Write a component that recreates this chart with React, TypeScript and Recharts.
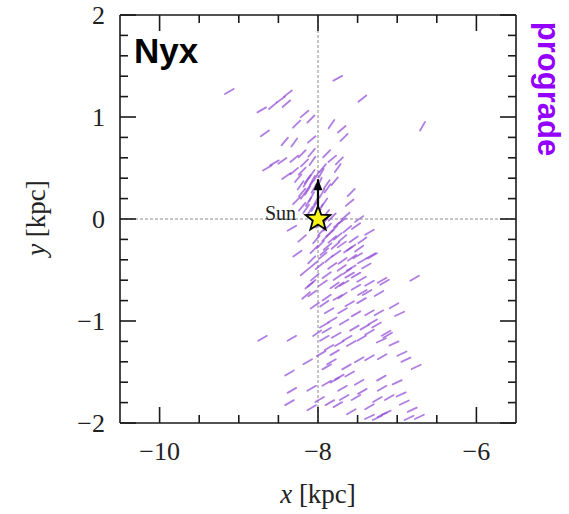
import { ScatterChart, Scatter, XAxis, YAxis, ReferenceLine } from "recharts";

// Nyx stream stars near the Sun: [x kpc, y kpc, velocity direction in degrees]
const nyxStars: [number, number, number][] = [
  [-9.12, 1.25, 30], [-7.75, 1.38, 28], [-8.71, 1.07, 30], [-8.57, 1.11, 40], [-8.47, 1.17, 35],
  [-8.38, 1.23, 38], [-8.40, 1.13, 40], [-7.44, 1.18, 38], [-6.68, 0.91, 60], [-8.17, 1.03, 40],
  [-8.27, 0.93, 45], [-8.09, 0.98, 45], [-7.83, 0.93, 55], [-7.70, 0.88, 40], [-7.67, 0.80, 45],
  [-8.67, 0.84, 35], [-8.42, 0.76, 50], [-8.30, 0.75, 55], [-8.08, 0.78, 40], [-7.89, 0.64, 45],
  [-7.82, 0.59, 40], [-7.73, 0.57, 45], [-7.75, 0.50, 55], [-7.94, 0.50, 50], [-8.55, 0.55, 30],
  [-8.45, 0.57, 35], [-8.64, 0.50, 30], [-8.30, 0.59, 40], [-8.20, 0.64, 45], [-8.08, 0.65, 50],
  [-8.17, 0.55, 45], [-8.07, 0.57, 55], [-8.40, 0.42, 35], [-8.30, 0.47, 40], [-8.20, 0.47, 45],
  [-8.08, 0.44, 55], [-8.13, 0.39, 55], [-7.79, 0.37, 50], [-7.89, 0.34, 55], [-7.58, 0.26, 45],
  [-7.60, 0.16, 40], [-8.20, 0.26, 50], [-8.27, 0.18, 45],
  [-8.15, 0.36, 60], [-8.10, 0.33, 55], [-8.05, 0.30, 60], [-8.13, 0.28, 58], [-8.18, 0.24, 55],
  [-8.08, 0.22, 62], [-8.02, 0.18, 60], [-8.12, 0.17, 58], [-8.20, 0.12, 50], [-8.05, 0.12, 60],
  [-7.97, 0.10, 62], [-8.10, 0.08, 58], [-7.95, 0.25, 60], [-7.98, 0.36, 65], [-8.02, 0.42, 60],
  [-8.22, 0.33, 55], [-8.15, 0.10, 55], [-7.92, 0.16, 55], [-7.90, 0.05, 50], [-8.00, 0.05, 58],
  [-7.88, 0.30, 55], [-8.25, 0.40, 50], [-7.96, 0.45, 60], [-8.07, 0.38, 62],
  [-7.48, 0.00, 35], [-7.52, -0.07, 35], [-7.35, -0.13, 30], [-7.44, -0.21, 35], [-7.63, -0.10, 40],
  [-7.69, -0.19, 40], [-7.48, -0.29, 35], [-7.33, -0.36, 30], [-7.57, -0.38, 35], [-7.39, -0.46, 30],
  [-7.63, -0.51, 35], [-7.52, -0.55, 30], [-7.16, -0.62, 30], [-6.78, -0.58, 30], [-7.35, -0.63, 30],
  [-7.44, -0.72, 30], [-7.23, -0.73, 30], [-7.73, -0.65, 35], [-7.69, -0.75, 35],
  [-8.33, -0.09, 30], [-8.20, -0.19, 40], [-8.26, -0.34, 35], [-8.17, -0.52, 40], [-8.11, -0.65, 40],
  [-8.15, -0.75, 40],
  [-7.98, -0.05, 45], [-7.92, -0.03, 50], [-7.88, -0.08, 45], [-7.95, -0.12, 45], [-7.85, -0.14, 40],
  [-7.80, -0.10, 45], [-7.90, -0.18, 45], [-7.82, -0.20, 40], [-7.75, -0.17, 40], [-8.02, -0.20, 50],
  [-7.97, -0.25, 45], [-7.88, -0.27, 40], [-7.78, -0.26, 40], [-7.70, -0.25, 35], [-8.05, -0.30, 45],
  [-7.92, -0.32, 40], [-7.62, -0.30, 35], [-8.08, -0.40, 45], [-7.75, -0.05, 40], [-7.70, -0.02, 35],
  [-7.82, 0.02, 45], [-7.65, 0.03, 40], [-8.06, -0.45, 40], [-7.55, -0.20, 35], [-7.58, -0.28, 35],
  [-7.94, -0.36, 40], [-7.86, -0.39, 40], [-7.77, -0.34, 35], [-7.69, -0.41, 35], [-7.98, -0.46, 40],
  [-7.82, -0.46, 35], [-7.70, -0.48, 35], [-7.58, -0.48, 30], [-7.44, -0.41, 30], [-7.31, -0.36, 30],
  [-7.50, -0.36, 30], [-8.04, -0.57, 40], [-7.89, -0.55, 35], [-7.75, -0.57, 35], [-7.60, -0.55, 30],
  [-7.45, -0.59, 30], [-7.19, -0.60, 30], [-8.08, -0.63, 40], [-7.94, -0.63, 35], [-7.79, -0.65, 35],
  [-7.67, -0.63, 30], [-7.52, -0.67, 30], [-7.38, -0.72, 30], [-8.07, -0.73, 35], [-7.89, -0.77, 35],
  [-7.75, -0.77, 30], [-7.60, -0.83, 30], [-7.45, -0.80, 30], [-7.04, -0.85, 30], [-6.97, -0.93, 25],
  [-7.23, -0.92, 30], [-8.04, -0.85, 35], [-7.86, -0.90, 30], [-7.69, -0.90, 30], [-7.52, -0.93, 30],
  [-7.35, -0.92, 30], [-7.92, -0.83, 35],
  [-7.82, -0.99, 30], [-7.67, -1.01, 30], [-7.54, -1.07, 30], [-7.41, -1.06, 30], [-7.26, -1.04, 30],
  [-7.14, -1.12, 30], [-8.33, -1.17, 30], [-7.89, -1.09, 30], [-7.77, -1.14, 30], [-7.63, -1.17, 30],
  [-7.45, -1.17, 30], [-7.20, -1.19, 25], [-7.04, -1.22, 25], [-7.92, -1.04, 30], [-7.92, -1.17, 30],
  [-7.86, -1.26, 30], [-7.96, -1.32, 30], [-7.83, -1.40, 30], [-7.89, -1.45, 30], [-7.79, -1.58, 30],
  [-7.89, -1.61, 30], [-8.01, -1.12, 35], [-8.13, -1.40, 30], [-8.70, -1.17, 30],
  [-8.36, -1.51, 30], [-8.33, -1.68, 30], [-8.08, -1.66, 30], [-8.36, -1.80, 30], [-8.08, -1.85, 30],
  [-7.98, -1.77, 30], [-7.85, -1.80, 30],
  [-7.31, -1.01, 30], [-7.12, -1.14, 30], [-7.35, -1.11, 30], [-7.58, -1.22, 30], [-7.73, -1.22, 30],
  [-7.79, -1.31, 30], [-6.94, -1.32, 25], [-6.89, -1.38, 25], [-6.76, -1.45, 25], [-7.19, -1.35, 30],
  [-7.35, -1.36, 30], [-7.48, -1.38, 30], [-7.64, -1.45, 30], [-7.60, -1.52, 30], [-7.73, -1.55, 30],
  [-7.48, -1.60, 30], [-7.20, -1.56, 30], [-7.00, -1.60, 25], [-7.19, -1.66, 30], [-7.69, -1.66, 30],
  [-7.44, -1.69, 30], [-7.52, -1.75, 30], [-7.67, -1.75, 30], [-6.95, -1.72, 25], [-7.25, -1.77, 30],
  [-7.10, -1.75, 30], [-6.91, -1.80, 25], [-7.75, -1.82, 30], [-7.35, -1.84, 30], [-7.58, -1.89, 30],
  [-6.81, -1.87, 25], [-7.14, -1.90, 25], [-7.35, -1.94, 25], [-7.25, -1.95, 25], [-7.19, -1.92, 25],
  [-6.72, -1.94, 25], [-6.85, -1.95, 25],
];

const sunPos = [{ x: -8, y: 0 }];
const sunArrow = [{ x: -8, y: 0 }, { x: -8, y: 0.39 }];

const xTicks = [-10, -9.5, -9, -8.5, -8, -7.5, -7, -6.5, -6];
const xLabelTicks = [-10, -8, -6];
const yTicks = [-2, -1.8, -1.6, -1.4, -1.2, -1, -0.8, -0.6, -0.4, -0.2, 0, 0.2, 0.4, 0.6, 0.8, 1, 1.2, 1.4, 1.6, 1.8, 2];
const yLabelTicks = [-2, -1, 0, 1, 2];

const serif = "'Liberation Serif', 'DejaVu Serif', serif";
const sans = "'Liberation Sans', Arial, sans-serif";
const ink = "#1a1a1a";
const fmt = (v: number) => (v < 0 ? "\u2212" + Math.abs(v) : String(v));

const streamData = nyxStars.map(([x, y, a]) => ({ x, y, a }));

const Segment = (p: any) => {
  const { cx, cy, payload } = p;
  if (cx == null || cy == null) return null;
  const r = (payload.a * Math.PI) / 180;
  const dx = 5 * Math.cos(r), dy = 5 * Math.sin(r);
  return <line x1={cx - dx} y1={cy + dy} x2={cx + dx} y2={cy - dy} stroke="#9553d6" strokeOpacity={0.75} strokeWidth={1.8} strokeLinecap="round" />;
};

const SunStar = (p: any) => {
  const { cx, cy } = p;
  const pts: string[] = [];
  for (let i = 0; i < 10; i++) {
    const rad = i % 2 === 0 ? 13 : 5.5;
    const ang = -Math.PI / 2 + (i * Math.PI) / 5;
    pts.push(`${cx + rad * Math.cos(ang)},${cy + rad * Math.sin(ang)}`);
  }
  return (
    <g>
      <polygon points={pts.join(" ")} fill="#f7f21a" stroke="#000" strokeWidth={1.8} strokeLinejoin="miter" />
      <text x={cx - 22} y={cy + 1} textAnchor="end" fontFamily={serif} fontSize={20} fill="#222">Sun</text>
    </g>
  );
};

const ArrowHead = (p: any) => {
  const { cx, cy, payload } = p;
  if (payload.y === 0) return null;
  return <polygon points={`${cx},${cy} ${cx - 4.5},${cy + 11} ${cx + 4.5},${cy + 11}`} fill="#000" />;
};

const BottomTick = ({ x, y, payload }: any) => {
  const major = xLabelTicks.includes(payload.value);
  return (
    <g>
      <line x1={x} x2={x} y1={y} y2={y - (major ? 16 : 8)} stroke={ink} strokeWidth={1.6} />
      {major && <text x={x} y={y + 37} textAnchor="middle" fontFamily={serif} fontSize={26} fill="#222">{fmt(payload.value)}</text>}
    </g>
  );
};
const TopTick = ({ x, y, payload }: any) => {
  const major = xLabelTicks.includes(payload.value);
  return <line x1={x} x2={x} y1={y} y2={y + (major ? 16 : 8)} stroke={ink} strokeWidth={1.6} />;
};
const LeftTick = ({ x, y, payload }: any) => {
  const major = yLabelTicks.includes(payload.value);
  return (
    <g>
      <line x1={x} x2={x + (major ? 16 : 8)} y1={y} y2={y} stroke={ink} strokeWidth={1.6} />
      {major && <text x={x - 15} y={y + 9} textAnchor="end" fontFamily={serif} fontSize={26} fill="#222">{fmt(payload.value)}</text>}
    </g>
  );
};
const RightTick = ({ x, y, payload }: any) => {
  const major = yLabelTicks.includes(payload.value);
  return <line x1={x} x2={x - (major ? 16 : 8)} y1={y} y2={y} stroke={ink} strokeWidth={1.6} />;
};

const axisLine = { stroke: ink, strokeWidth: 1.6 };

export default function App() {
  return (
    <div style={{ position: "fixed", left: 0, top: 0, width: 569, height: 514, background: "#fff" }}>
      <ScatterChart width={569} height={514} margin={{ top: 14, right: 52, bottom: 0, left: 0 }}>
        <XAxis xAxisId="bottom" type="number" dataKey="x" domain={[-10.5, -5.5]} ticks={xTicks} allowDataOverflow
          height={91} tickSize={0} tickMargin={0} tickLine={false} axisLine={axisLine} tick={<BottomTick />} interval={0} />
        <XAxis xAxisId="top" orientation="top" type="number" dataKey="x" domain={[-10.5, -5.5]} ticks={xTicks} allowDataOverflow
          height={1} tickSize={0} tickMargin={0} tickLine={false} axisLine={axisLine} tick={<TopTick />} interval={0} />
        <YAxis yAxisId="left" type="number" dataKey="y" domain={[-2, 2]} ticks={yTicks} allowDataOverflow
          width={120} tickSize={0} tickMargin={0} tickLine={false} axisLine={axisLine} tick={<LeftTick />} interval={0} />
        <YAxis yAxisId="right" orientation="right" type="number" dataKey="y" domain={[-2, 2]} ticks={yTicks} allowDataOverflow
          width={1} tickSize={0} tickMargin={0} tickLine={false} axisLine={axisLine} tick={<RightTick />} interval={0} />
        <ReferenceLine xAxisId="bottom" yAxisId="left" x={-8} stroke="#8a8a8a" strokeWidth={1} strokeDasharray="3 2" />
        <ReferenceLine xAxisId="bottom" yAxisId="left" y={0} stroke="#8a8a8a" strokeWidth={1} strokeDasharray="3 2" />
        <Scatter xAxisId="bottom" yAxisId="left" data={streamData} shape={<Segment />} isAnimationActive={false} />
        <Scatter xAxisId="top" yAxisId="right" data={sunArrow} line={{ stroke: "#000", strokeWidth: 2.2 }} shape={<ArrowHead />} isAnimationActive={false} />
        <Scatter xAxisId="top" yAxisId="right" data={sunPos} shape={<SunStar />} isAnimationActive={false} />
      </ScatterChart>
      <svg width={569} height={514} style={{ position: "absolute", left: 0, top: 0, pointerEvents: "none" }}>
        <text x={134} y={63} fontFamily={sans} fontWeight="bold" fontSize={35} fill="#000">Nyx</text>
        <text x={538} y={89} transform="rotate(90 538 89)" textAnchor="middle" fontFamily={sans} fontWeight="bold" fontSize={31} fill="#9400ff">prograde</text>
        <text x={318} y={503} textAnchor="middle" fontFamily={serif} fontSize={27} fill="#222">
          <tspan fontStyle="italic">x</tspan> [kpc]
        </text>
        <text x={45} y={218} transform="rotate(-90 45 218)" textAnchor="middle" fontFamily={serif} fontSize={27} fill="#222">
          <tspan fontStyle="italic">y</tspan> [kpc]
        </text>
      </svg>
    </div>
  );
}
